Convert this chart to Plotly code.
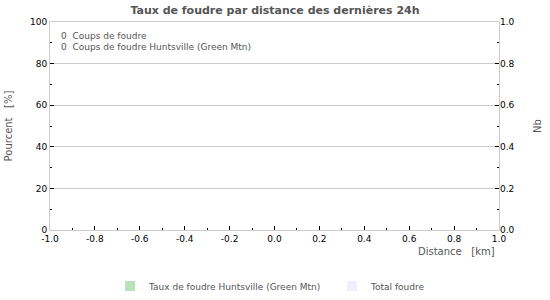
import plotly.graph_objects as go

# Data (empty: no lightning strikes in the last 24h)
distances = []
taux_huntsville = []
total_foudre = []
coups_total = 0
coups_huntsville = 0

x_tick_vals = [-1.0, -0.8, -0.6, -0.4, -0.2, 0.0, 0.2, 0.4, 0.6, 0.8, 1.0]
x_tick_text = ["-1.0", "-0.8", "-0.6", "-0.4", "-0.2", "0.0", "0.2", "0.4", "0.6", "0.8", "1.0"]

title = "Taux de foudre par distance des dernières 24h"
series_names = ["Taux de foudre Huntsville (Green Mtn)", "Total foudre"]
series_colors = ["#b8e2b8", "#eeeeff"]

FONT = "DejaVu Sans"
GRAY = "#555555"

fig = go.Figure()
fig.add_trace(go.Bar(x=distances, y=taux_huntsville, name=series_names[0],
                     marker_color=series_colors[0], showlegend=False))
fig.add_trace(go.Bar(x=distances, y=total_foudre, name=series_names[1],
                     marker_color=series_colors[1], yaxis="y2", showlegend=False))

tickfont = dict(family=FONT, size=9, color="#000000")
fig.update_layout(
    width=550, height=300,
    margin=dict(l=50, r=51, t=22, b=70, autoexpand=False),
    paper_bgcolor="white", plot_bgcolor="white",
    font=dict(family=FONT, size=9, color=GRAY),
    title=dict(text="<b>" + title + "</b>", x=0.5, xanchor="center", y=0.965, yanchor="middle",
               font=dict(family=FONT, size=11, color=GRAY)),
    xaxis=dict(range=[-1, 1], tickmode="array", tickvals=x_tick_vals, ticktext=x_tick_text,
               showgrid=False, zeroline=False, showline=True, linecolor="#cccccc",
               linewidth=1, mirror=True, ticks="inside", ticklen=4, tickcolor="#000000",
               minor=dict(dtick=0.1, tick0=-1, ticks="inside", ticklen=2, tickcolor="#000000", showgrid=False),
               tickfont=tickfont, fixedrange=True, automargin=False),
    yaxis=dict(range=[0, 100], dtick=20, tickformat="d",
               showgrid=True, gridcolor="#cccccc", zeroline=False, showline=True,
               linecolor="#cccccc", mirror=True, ticks="inside", ticklen=4, tickcolor="#000000",
               minor=dict(dtick=10, ticks="inside", ticklen=2, tickcolor="#000000", showgrid=False),
               tickfont=tickfont, automargin=False,
               title=dict(text="Pourcent   [%]", standoff=15,
                          font=dict(family=FONT, size=10, color=GRAY))),
    yaxis2=dict(range=[0, 1], dtick=0.2, tickformat=".1f", overlaying="y", side="right",
                showgrid=False, zeroline=False, showline=False,
                ticks="inside", ticklen=4, tickcolor="#000000",
                minor=dict(dtick=0.1, ticks="inside", ticklen=2, tickcolor="#000000", showgrid=False),
                tickfont=tickfont, automargin=False,
                title=dict(text="Nb", standoff=20,
                           font=dict(family=FONT, size=10, color=GRAY))),
    showlegend=False,
)

# X axis title, right-aligned under the axis
fig.add_annotation(text="Distance   [km]", xref="paper", yref="paper", x=0.995, y=-0.105,
                   xanchor="right", yanchor="middle", showarrow=False,
                   font=dict(family=FONT, size=10, color=GRAY))

# Counts in the upper left
fig.add_annotation(text=f"{coups_total}  Coups de foudre", xref="paper", yref="paper",
                   x=0.02, y=0.935, xanchor="left", yanchor="middle", showarrow=False,
                   font=dict(family=FONT, size=9, color=GRAY))
fig.add_annotation(text=f"{coups_huntsville}  Coups de foudre Huntsville (Green Mtn)",
                   xref="paper", yref="paper", x=0.02, y=0.878, xanchor="left",
                   yanchor="middle", showarrow=False,
                   font=dict(family=FONT, size=9, color=GRAY))

# Legend drawn at the bottom
legend_x = [125, 347]
for name, color, lx in zip(series_names, series_colors, legend_x):
    fig.add_shape(type="rect", xref="paper", yref="paper",
                  x0=(lx - 50) / 449, x1=(lx + 10 - 50) / 449,
                  y0=(230 - 291) / 208, y1=(230 - 281) / 208,
                  fillcolor=color, line=dict(width=0))
    fig.add_annotation(text=name, xref="paper", yref="paper",
                       x=(lx + 21 - 50) / 449, y=(230 - 287) / 208,
                       xanchor="left", yanchor="middle", showarrow=False,
                       font=dict(family=FONT, size=9, color=GRAY))

fig.write_html("out.html")
